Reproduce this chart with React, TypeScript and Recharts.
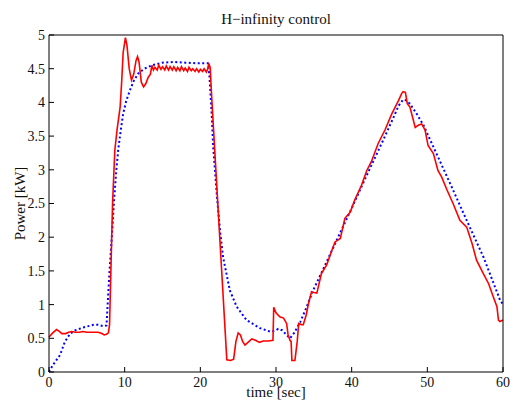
import React from 'react';
import { LineChart, Line, XAxis, YAxis } from 'recharts';

const xTicks = [0, 10, 20, 30, 40, 50, 60];
const yTicks = [0, 0.5, 1, 1.5, 2, 2.5, 3, 3.5, 4, 4.5, 5];

const redTime = [
  0, 0.5, 1.0, 1.4, 1.7, 2.2, 2.6, 3.0, 3.5, 4.0, 4.5, 5.0, 5.5, 6.0, 6.5, 7.0, 7.3, 7.6, 7.85,
  8.0, 8.2, 8.4, 8.7, 9.0, 9.4, 9.6, 9.8, 10.1, 10.3, 10.6, 10.9, 11.2, 11.5, 11.7, 11.9, 12.2, 12.5,
  12.8, 13.1, 13.4, 13.6, 13.8, 14.0, 14.3, 14.5, 14.8, 15.0, 15.3, 15.5, 15.8, 16.0, 16.3, 16.5,
  16.8, 17.0, 17.3, 17.5, 17.8, 18.0, 18.3, 18.5, 18.8, 19.0, 19.3, 19.5, 19.8, 20.0, 20.3, 20.5,
  20.8, 21.0, 21.1, 21.3, 21.5, 22.6, 23.5, 24.0, 24.4, 24.7, 25.0, 25.3, 25.6, 25.9, 26.3, 26.8,
  27.3, 27.8, 28.3, 29.0, 29.6, 29.7, 30.0, 30.5, 31.0, 31.4, 31.6, 31.85, 32.0, 32.1, 32.5, 32.8,
  33.0, 33.4, 33.6, 34.0, 34.3, 34.7, 35.0, 35.4, 36.0, 36.7, 37.4, 37.8, 38.5, 39.1, 39.8, 40.4,
  41.3, 42.0, 42.6, 43.5, 44.4, 45.3, 46.2, 46.6, 46.8, 47.1, 47.35, 47.7, 48.4, 48.8, 49.25, 49.7,
  50.1, 50.8, 51.4, 51.9, 52.6, 53.4, 54.3, 55.2, 55.9, 56.5, 57.4, 58.1, 58.7, 59.2, 59.4, 59.6, 60,
];
const redPower = [
  0.52, 0.58, 0.63, 0.6, 0.57, 0.57, 0.59, 0.6, 0.59, 0.59, 0.6, 0.59, 0.59, 0.59, 0.59, 0.57, 0.55, 0.56, 0.58,
  0.7, 1.6, 2.5, 3.29, 3.6, 3.93, 4.3, 4.74, 4.96, 4.85, 4.5, 4.33, 4.42, 4.62, 4.68, 4.6, 4.3, 4.23,
  4.28, 4.37, 4.42, 4.55, 4.48, 4.52, 4.48, 4.55, 4.49, 4.53, 4.48, 4.54, 4.48, 4.53, 4.48, 4.53,
  4.47, 4.52, 4.47, 4.53, 4.47, 4.51, 4.46, 4.52, 4.47, 4.5, 4.46, 4.5, 4.45, 4.49, 4.46, 4.5,
  4.45, 4.5, 4.58, 4.52, 4.08, 1.93, 0.18, 0.17, 0.19, 0.45, 0.58, 0.55, 0.45, 0.4, 0.44, 0.49,
  0.47, 0.44, 0.46, 0.46, 0.47, 0.96, 0.88, 0.82, 0.8, 0.72, 0.55, 0.47, 0.45, 0.17, 0.17, 0.45,
  0.72, 0.7, 0.7, 0.85, 1.02, 1.19, 1.18, 1.17, 1.46, 1.59, 1.81, 1.93, 1.98, 2.28, 2.37, 2.55,
  2.77, 2.99, 3.12, 3.39, 3.59, 3.83, 4.03, 4.13, 4.16, 4.15, 3.98, 3.93, 3.63, 3.66, 3.68, 3.59,
  3.36, 3.24, 2.99, 2.89, 2.7, 2.5, 2.25, 2.15, 1.91, 1.66, 1.46, 1.31, 1.12, 0.97, 0.77, 0.75, 0.77,
];

const blueTime = [
  0, 0.5, 1.0, 1.45, 2.1, 2.8, 3.5, 4.5, 5.9, 6.5, 7.2, 7.6, 7.75, 8.0, 8.3, 8.6, 8.9, 9.15, 9.5,
  9.8, 10.2, 10.7, 11.2, 11.8, 12.6, 13.6, 15.0, 16.5, 18.0, 19.5, 21.0, 21.2, 21.5, 21.7, 22.2,
  22.6, 23.0, 23.9, 24.8, 26.1, 27.9, 29.2, 29.8, 30.3, 30.8, 31.4, 31.85, 32.4, 33.2, 34.0, 34.9,
  36.0, 38.0, 40.0, 42.0, 44.0, 45.5, 46.2, 46.8, 47.2, 47.7, 48.6, 49.5, 50.8, 53.0, 55.2, 57.4,
  59.6, 60,
];
const bluePower = [
  0, 0.1, 0.18, 0.25, 0.45, 0.57, 0.62, 0.66, 0.7, 0.7, 0.68, 0.69, 1.0, 1.5, 2.0, 2.55, 3.0, 3.3, 3.6,
  3.83, 4.02, 4.18, 4.32, 4.43, 4.5, 4.55, 4.59, 4.6, 4.59, 4.58, 4.58, 4.4, 3.83, 3.34, 2.6,
  2.1, 1.71, 1.21, 0.97, 0.77, 0.65, 0.6, 0.61, 0.64, 0.62, 0.55, 0.5, 0.58, 0.74, 0.95, 1.21,
  1.47, 1.95, 2.43, 2.92, 3.4, 3.77, 3.95, 4.04, 4.03, 3.98, 3.83, 3.66, 3.34, 2.8, 2.25, 1.71,
  1.07, 1.0,
];

const redData = redTime.map((t, i) => ({ t, p: redPower[i] }));
const blueData = blueTime.map((t, i) => ({ t, p: bluePower[i] }));

const font = 'Liberation Serif, Times New Roman, serif';
const tickStyle = { fill: '#111', fontSize: 14, fontFamily: font };
const labelStyle = { fill: '#111', fontSize: 15, fontFamily: font };

export default function App() {
  return (
    <div style={{ position: 'absolute', left: 0, top: 0, width: 512, height: 403, background: '#fff' }}>
      <LineChart width={512} height={403} margin={{ top: 34, right: 8, bottom: 6, left: 9 }}>
        <XAxis
          xAxisId="b"
          dataKey="t"
          type="number"
          domain={[0, 60]}
          ticks={xTicks}
          allowDuplicatedCategory={false}
          orientation="bottom"
          height={25}
          tickSize={-5}
          tickMargin={10}
          interval={0}
          stroke="#000"
          tick={tickStyle}
          axisLine={{ stroke: '#000', strokeWidth: 1 }}
          tickLine={{ stroke: '#000' }}
          label={{ value: 'time [sec]', position: 'insideBottom', offset: 0.5, style: labelStyle }}
        />
        <XAxis
          xAxisId="t"
          dataKey="t"
          type="number"
          domain={[0, 60]}
          ticks={xTicks}
          orientation="top"
          height={1}
          tickSize={-5}
          interval={0}
          tickFormatter={() => ''}
          axisLine={{ stroke: '#000', strokeWidth: 1 }}
          tickLine={{ stroke: '#000' }}
          label={{ value: 'H\u2212infinity control', position: 'top', offset: 10.5, style: labelStyle }}
        />
        <YAxis
          yAxisId="l"
          type="number"
          domain={[0, 5]}
          ticks={yTicks}
          orientation="left"
          width={40}
          tickSize={-5}
          tickMargin={9}
          interval={0}
          tick={tickStyle}
          axisLine={{ stroke: '#000', strokeWidth: 1 }}
          tickLine={{ stroke: '#000' }}
          label={{ value: 'Power [kW]', angle: -90, position: 'insideLeft', offset: 10.5, style: { ...labelStyle, textAnchor: 'middle' } }}
        />
        <YAxis
          yAxisId="r"
          type="number"
          domain={[0, 5]}
          ticks={yTicks}
          orientation="right"
          width={1}
          tickSize={-5}
          interval={0}
          tickFormatter={() => ''}
          axisLine={{ stroke: '#000', strokeWidth: 1 }}
          tickLine={{ stroke: '#000' }}
        />
        <Line
          xAxisId="b"
          yAxisId="l"
          data={blueData}
          dataKey="p"
          type="linear"
          stroke="#0000ff"
          strokeWidth={2}
          strokeDasharray="2 2.5"
          dot={false}
          isAnimationActive={false}
        />
        <Line
          xAxisId="b"
          yAxisId="l"
          data={redData}
          dataKey="p"
          type="linear"
          stroke="#ff0000"
          strokeWidth={1.6}
          dot={false}
          isAnimationActive={false}
        />
      </LineChart>
    </div>
  );
}
